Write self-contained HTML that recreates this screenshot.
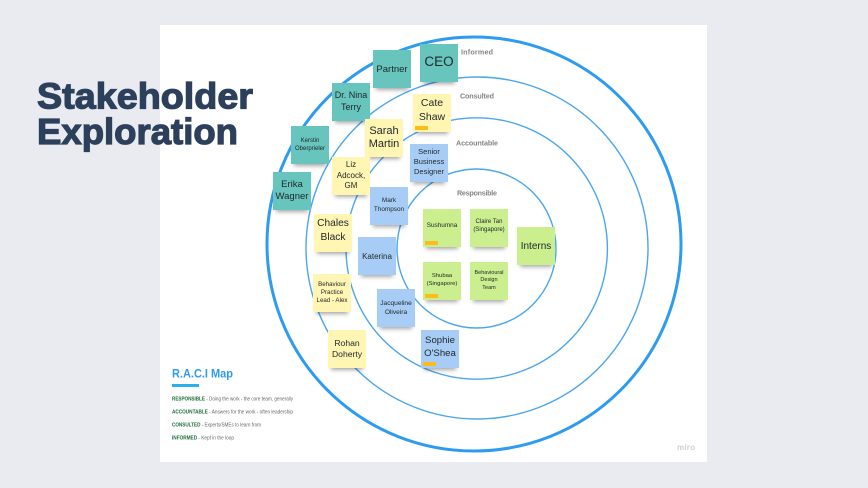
<!DOCTYPE html>
<html lang="en">
<head>
<meta charset="utf-8">
<title>Stakeholder Exploration</title>
<style>
html,body{margin:0;padding:0;width:868px;height:488px;overflow:hidden;background:#e9ebf0;font-family:"Liberation Sans",sans-serif}
#c{position:absolute;left:160px;top:25px;width:547px;height:437px;background:#fff}
svg{position:absolute;left:0;top:0}
.s{position:absolute;width:38px;height:38px;display:flex;align-items:center;justify-content:center;text-align:center;color:#22292c;box-shadow:0 5px 4px -3px rgba(0,0,0,.34);box-sizing:border-box;padding:0 1px}
.t{background:#67c5bd}.y{background:#fff6b4}.b{background:#a7cdf6}.g{background:#cbef8e}
.o{position:absolute;width:13px;height:4px;background:#fcbc1a}
</style>
</head>
<body>
<div id="c"></div>
<svg width="868" height="488" viewBox="0 0 868 488">
<g fill="none">
<circle cx="474" cy="244" r="207" stroke="#2d9bf0" stroke-width="3"/>
<circle cx="477" cy="248" r="171" stroke="#4ba6ee" stroke-width="1.4"/>
<circle cx="476.7" cy="248.5" r="130.7" stroke="#4ba6ee" stroke-width="1.4"/>
<circle cx="476.5" cy="248.5" r="79.5" stroke="#4ba6ee" stroke-width="1.4"/>
</g>
<g font-family="'Liberation Sans',sans-serif" font-weight="700" font-size="7.2" fill="#858585">
<text x="461" y="54.5" textLength="32">Informed</text>
<text x="460" y="98.5" textLength="34">Consulted</text>
<text x="456" y="145.5" textLength="42">Accountable</text>
<text x="457" y="195.5" textLength="40">Responsible</text>
</g>
<g font-family="'Liberation Sans',sans-serif" font-weight="700" font-size="36" fill="#2c405c" stroke="#2c405c" stroke-width="1.2">
<text x="37" y="108.5" textLength="216" lengthAdjust="spacingAndGlyphs">Stakeholder</text>
<text x="37" y="144" textLength="201" lengthAdjust="spacingAndGlyphs">Exploration</text>
</g>
<text x="172" y="377.5" font-family="'Liberation Sans',sans-serif" font-weight="700" font-size="12" fill="#2d9bf0" textLength="61" lengthAdjust="spacingAndGlyphs">R.A.C.I Map</text>
<rect x="172" y="384" width="27" height="3" fill="#2bb0ee"/>
<g font-family="'Liberation Sans',sans-serif" font-size="5" fill="#666" lengthAdjust="spacingAndGlyphs">
<text x="172" y="400.5" textLength="121" lengthAdjust="spacingAndGlyphs"><tspan font-weight="700" fill="#1f6a3c">RESPONSIBLE</tspan> - Doing the work - the core team, generally</text>
<text x="172" y="413.5" textLength="121" lengthAdjust="spacingAndGlyphs"><tspan font-weight="700" fill="#1f6a3c">ACCOUNTABLE</tspan> - Answers for the work - often leadership</text>
<text x="172" y="426.5" textLength="89" lengthAdjust="spacingAndGlyphs"><tspan font-weight="700" fill="#1f6a3c">CONSULTED</tspan> - Experts/SMEs to learn from</text>
<text x="172" y="439.5" textLength="62" lengthAdjust="spacingAndGlyphs"><tspan font-weight="700" fill="#1f6a3c">INFORMED</tspan> - Kept in the loop</text>
</g>
<text x="677" y="450" font-family="'Liberation Sans',sans-serif" font-weight="700" font-size="8" fill="#cfcfcf" textLength="18">miro</text>
</svg>

<div class="s t" style="left:420px;top:44px;font-size:13.5px;padding-bottom:3px">CEO</div>
<div class="s t" style="left:373px;top:50px;font-size:9.5px">Partner</div>
<div class="s t" style="left:332px;top:83px;font-size:9px;line-height:12px;padding-bottom:2px">Dr. Nina<br>Terry</div>
<div class="s t" style="left:291px;top:126px;font-size:6px;line-height:8px">Kerstin<br>Oberprieler</div>
<div class="s t" style="left:273px;top:172px;font-size:9.5px;line-height:12.5px">Erika<br>Wagner</div>
<div class="s y" style="left:413px;top:94px;font-size:10.5px;line-height:14px;padding-bottom:7px">Cate<br>Shaw</div>
<div class="o" style="left:415px;top:126px"></div>
<div class="s y" style="left:365px;top:119px;font-size:11px;line-height:13.5px">Sarah<br>Martin</div>
<div class="s y" style="left:332px;top:157px;font-size:8px;line-height:10.5px">Liz<br>Adcock,<br>GM</div>
<div class="s b" style="left:410px;top:144px;font-size:7.5px;line-height:9.8px;padding-bottom:2px">Senior<br>Business<br>Designer</div>
<div class="s b" style="left:370px;top:187px;font-size:6.4px;line-height:8.8px;padding-bottom:1px">Mark<br>Thompson</div>
<div class="s y" style="left:314px;top:214px;font-size:10.2px;line-height:14px;padding-bottom:4px">Chales<br>Black</div>
<div class="s b" style="left:358px;top:237px;font-size:8px">Katerina</div>
<div class="s y" style="left:313px;top:274px;font-size:6.2px;line-height:8.3px">Behaviour<br>Practice<br>Lead - Alex</div>
<div class="s b" style="left:377px;top:289px;font-size:6.6px;line-height:9px;padding-bottom:1px">Jacqueline<br>Oliveira</div>
<div class="s y" style="left:328px;top:330px;font-size:8.6px;line-height:11.5px">Rohan<br>Doherty</div>
<div class="s b" style="left:421px;top:330px;font-size:9.6px;line-height:12.5px;padding-bottom:3px">Sophie<br>O'Shea</div>
<div class="o" style="left:423px;top:362px"></div>
<div class="s g" style="left:423px;top:209px;font-size:6.4px;padding-bottom:6px">Sushumna</div>
<div class="o" style="left:425px;top:241px"></div>
<div class="s g" style="left:470px;top:209px;font-size:6px;line-height:8px;padding-bottom:4px">Claire Tan<br>(Singapore)</div>
<div class="s g" style="left:517px;top:227px;font-size:10px">Interns</div>
<div class="s g" style="left:423px;top:262px;font-size:5.9px;line-height:8px;padding-bottom:2px">Shubaa<br>(Singapore)</div>
<div class="o" style="left:425px;top:294px"></div>
<div class="s g" style="left:470px;top:262px;font-size:5.5px;line-height:7.3px">Behavioural<br>Design<br>Team</div>
</body>
</html>
